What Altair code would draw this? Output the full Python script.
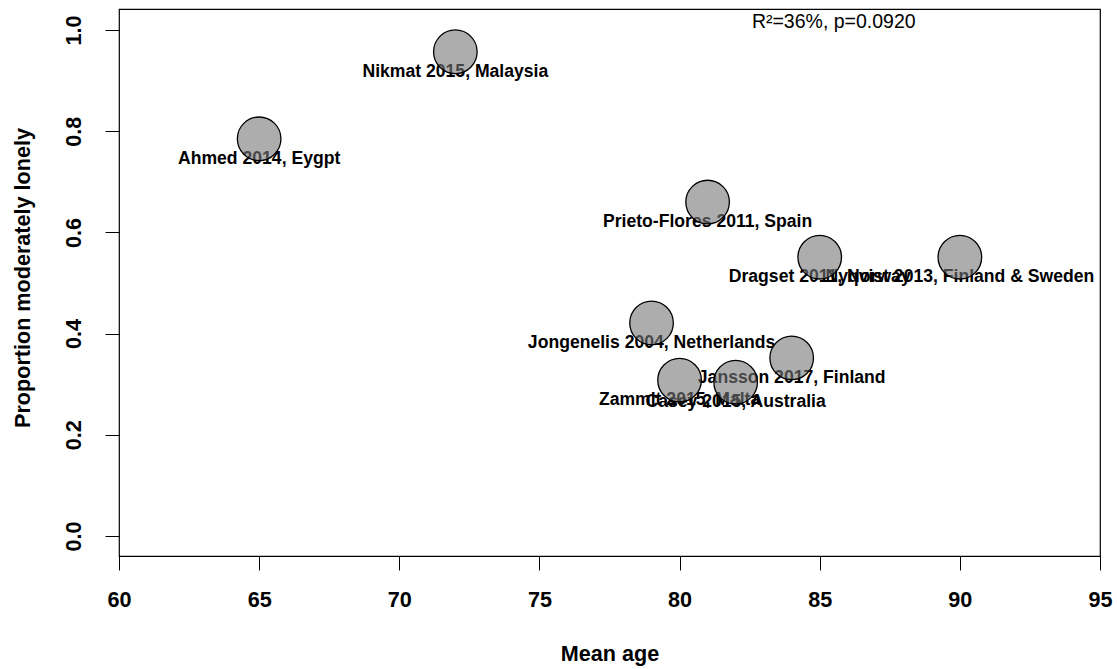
import altair as alt
import pandas as pd

studies = ["Nikmat 2015, Malaysia", "Ahmed 2014, Eygpt", "Prieto-Flores 2011, Spain",
           "Dragset 2011, Norway", "Nyqvist 2013, Finland & Sweden",
           "Jongenelis 2004, Netherlands", "Jansson 2017, Finland",
           "Zammit 2015, Malta", "Casey 2015, Australia"]
mean_age = [72, 65, 81, 85, 90, 79, 84, 80, 82]
proportion = [0.957, 0.785, 0.660, 0.551, 0.551, 0.421, 0.352, 0.308, 0.304]

x_ticks = [60, 65, 70, 75, 80, 85, 90, 95]
y_ticks = [0.0, 0.2, 0.4, 0.6, 0.8, 1.0]

stat_text = ["R\u00b2=36%, p=0.0920"]
stat_x = [85.5]
stat_y = [1.015]

df = pd.DataFrame({"study": studies, "age": mean_age, "prop": proportion})
sdf = pd.DataFrame({"txt": stat_text, "x": stat_x, "y": stat_y})

FONT = "Liberation Sans"

xscale = alt.Scale(domain=[60, 95], nice=False, zero=False)
yscale = alt.Scale(domain=[-0.0395, 1.0415], nice=False, zero=False)

xenc = alt.X("age:Q", scale=xscale, axis=alt.Axis(
    values=x_ticks, title="Mean age", format="d",
    tickSize=14, tickColor="black", tickWidth=1, domain=False, grid=False,
    labelFont=FONT, labelFontSize=21.6, labelFontWeight="bold", labelColor="black",
    labelPadding=19, labelFlush=False, labelOverlap=False,
    titleFont=FONT, titleFontSize=21.6, titleFontWeight="bold", titleColor="black",
    titleY=104, titleBaseline="alphabetic"))
yenc = alt.Y("prop:Q", scale=yscale, axis=alt.Axis(
    values=y_ticks, title="Proportion moderately lonely", format=".1f",
    tickSize=14, tickColor="black", tickWidth=1, domain=False, grid=False,
    labelFont=FONT, labelFontSize=21.6, labelFontWeight="bold", labelColor="black",
    labelAngle=270, labelAlign="center", labelBaseline="alphabetic",
    labelPadding=25, labelFlush=False, labelOverlap=False,
    titleFont=FONT, titleFontSize=21.6, titleFontWeight="bold", titleColor="black",
    titleAngle=270, titleX=-90, titleY=268.5, titleAlign="center",
    titleBaseline="alphabetic"))

base = alt.Chart(df)

labels = base.transform_calculate(ly="datum.prop - 0.04").mark_text(
    font=FONT, fontSize=17.6, fontWeight="bold", color="black",
    align="center", baseline="middle"
).encode(
    x=alt.X("age:Q", scale=xscale),
    y=alt.Y("ly:Q", scale=yscale),
    text="study:N",
)

circles = base.mark_circle(
    size=1900, color="#777777", fillOpacity=0.6,
    stroke="black", strokeWidth=1.3, strokeOpacity=1
).encode(x=xenc, y=yenc)

stat = alt.Chart(sdf).mark_text(
    font=FONT, fontSize=19.5, color="black", align="center", baseline="middle"
).encode(
    x=alt.X("x:Q", scale=xscale),
    y=alt.Y("y:Q", scale=yscale),
    text="txt:N",
)

chart = alt.layer(circles, labels, stat).properties(
    width=981, height=547,
    autosize=alt.AutoSizeParams(type="none"),
    padding={"left": 119, "top": 9, "right": 17, "bottom": 113},
    background="white",
).configure_view(stroke="black", strokeWidth=1.2)

# draw order: labels under circles
chart = alt.layer(labels, circles, stat).properties(
    width=981, height=547,
    autosize=alt.AutoSizeParams(type="none"),
    padding={"left": 119, "top": 9, "right": 17, "bottom": 113},
    background="white",
).configure_view(stroke="black", strokeWidth=1.2)

chart.save("out.html", embed_options={"renderer": "svg", "actions": False})
